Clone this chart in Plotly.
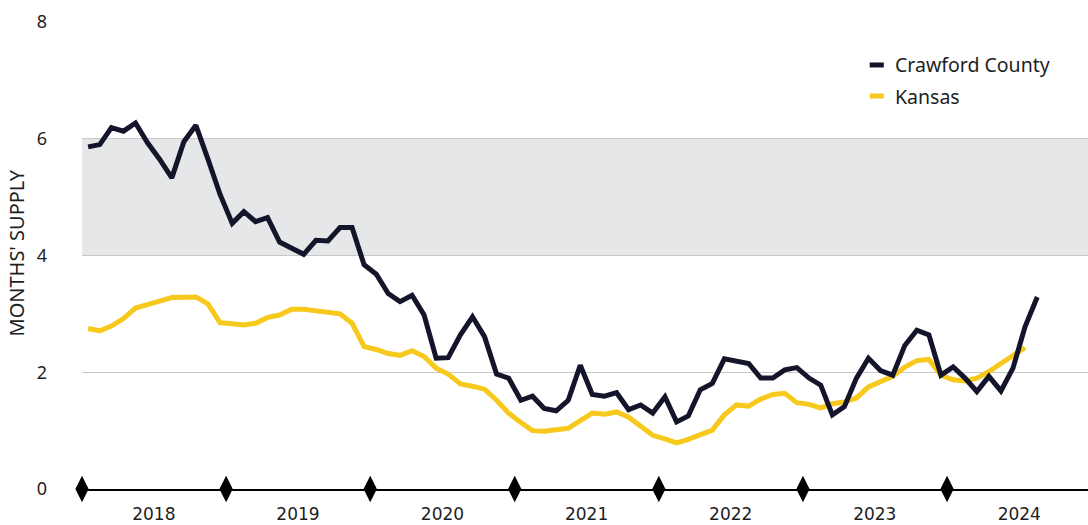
import plotly.graph_objects as go
import pandas as pd

# ---- data ----
months_crawford = pd.date_range("2018-01-01", periods=80, freq="MS").strftime("%Y-%m").tolist()
months_kansas = months_crawford[:79]

crawford = [5.86, 5.90, 6.19, 6.13, 6.27, 5.93, 5.65, 5.33, 5.95, 6.23,
            5.65, 5.05, 4.55, 4.75, 4.58, 4.65, 4.23, 4.12, 4.02, 4.26,
            4.25, 4.48, 4.48, 3.84, 3.68, 3.35, 3.21, 3.32, 2.98, 2.24,
            2.25, 2.64, 2.95, 2.61, 1.97, 1.90, 1.52, 1.59, 1.38, 1.34,
            1.52, 2.12, 1.62, 1.59, 1.65, 1.36, 1.44, 1.30, 1.58, 1.15,
            1.25, 1.70, 1.81, 2.23, 2.19, 2.15, 1.90, 1.90, 2.04, 2.08,
            1.90, 1.78, 1.27, 1.41, 1.90, 2.24, 2.03, 1.95, 2.46, 2.72,
            2.64, 1.95, 2.09, 1.90, 1.67, 1.93, 1.68, 2.07, 2.78, 3.29]

kansas = [2.75, 2.71, 2.79, 2.92, 3.10, 3.15, 3.22, 3.28, 3.28, 3.29,
          3.17, 2.85, 2.83, 2.81, 2.84, 2.94, 2.98, 3.08, 3.08, 3.05,
          3.01, 3.00, 2.84, 2.44, 2.39, 2.32, 2.29, 2.37, 2.27, 2.07,
          1.97, 1.80, 1.76, 1.71, 1.52, 1.30, 1.14, 1.00, 0.99, 1.02,
          1.04, 1.17, 1.30, 1.28, 1.32, 1.23, 1.08, 0.92, 0.86, 0.79,
          0.85, 0.92, 1.01, 1.27, 1.44, 1.42, 1.54, 1.62, 1.64, 1.48,
          1.45, 1.39, 1.46, 1.49, 1.56, 1.75, 1.85, 1.93, 2.09, 2.20,
          2.22, 1.95, 1.87, 1.85, 1.90, 2.01, 2.15, 2.29, 2.42]

years = ["2018", "2019", "2020", "2021", "2022", "2023", "2024"]
year_starts = [f"{y}-01-01" for y in years]
year_mids = [f"{y}-07-02" for y in years]

y_ticks = [0, 2, 4, 6, 8]
band = (4, 6)

NAVY = "#14142b"
GOLD = "#f6c91c"
TEXT = "#1e1e1e"

fig = go.Figure()

fig.add_trace(go.Scatter(
    x=months_kansas, y=kansas, mode="lines", name="Kansas",
    xperiod="M1", xperiodalignment="middle",
    line=dict(color=GOLD, width=5), showlegend=False, cliponaxis=False))

fig.add_trace(go.Scatter(
    x=months_crawford, y=crawford, mode="lines", name="Crawford County",
    xperiod="M1", xperiodalignment="middle",
    line=dict(color=NAVY, width=5), showlegend=False, cliponaxis=False))

fig.add_trace(go.Scatter(
    x=year_starts, y=[0] * len(year_starts), mode="markers",
    marker=dict(symbol="diamond-tall", size=19, color="#000000"),
    showlegend=False, cliponaxis=False, hoverinfo="skip"))

fig.add_shape(type="rect", xref="paper", yref="y", x0=0, x1=1,
              y0=band[0], y1=band[1], fillcolor="#e6e7e9",
              line=dict(width=0), layer="below")

# custom legend
legend_items = [("Crawford County", NAVY, 0.908), ("Kansas", GOLD, 0.8415)]
for name, color, yp in legend_items:
    fig.add_shape(type="line", xref="paper", yref="paper",
                  x0=0.783, x1=0.797, y0=yp, y1=yp,
                  line=dict(color=color, width=5))
    fig.add_annotation(text=name, xref="paper", yref="paper", x=0.8065, y=yp,
                       xanchor="left", yanchor="middle", showarrow=False,
                       font=dict(family="Noto Sans", size=19.5, color=TEXT))

fig.add_annotation(text="MONTHS' SUPPLY", xref="paper", yref="paper",
                   x=-0.0648, y=0.506, textangle=-90, showarrow=False,
                   xanchor="center", yanchor="middle",
                   font=dict(family="Noto Sans", size=20, color=TEXT))

fig.update_layout(
    width=1088, height=525,
    margin=dict(l=82, r=0, t=22, b=36),
    paper_bgcolor="white", plot_bgcolor="white",
    showlegend=False,
    xaxis=dict(
        type="date", range=["2018-01-01", "2024-12-23"],
        tickvals=year_mids, ticktext=years, ticks="",
        tickfont=dict(family="DejaVu Sans", size=17, color=TEXT),
        ticklabelstandoff=9,
        showgrid=False, zeroline=False,
        showline=True, linecolor="#000000", linewidth=2,
    ),
    yaxis=dict(
        range=[0, 8], tickvals=y_ticks, ticks="",
        tickfont=dict(family="Noto Sans", size=18, color=TEXT),
        ticklabelstandoff=34,
        showgrid=True, gridcolor="#c8c8c8", gridwidth=1,
        zeroline=False, showline=False,
    ),
)

# remove the page's default body margin so the figure fills the window
fig.write_html("out.html", config={"displayModeBar": False},
               post_script="document.body.style.margin='0';")
